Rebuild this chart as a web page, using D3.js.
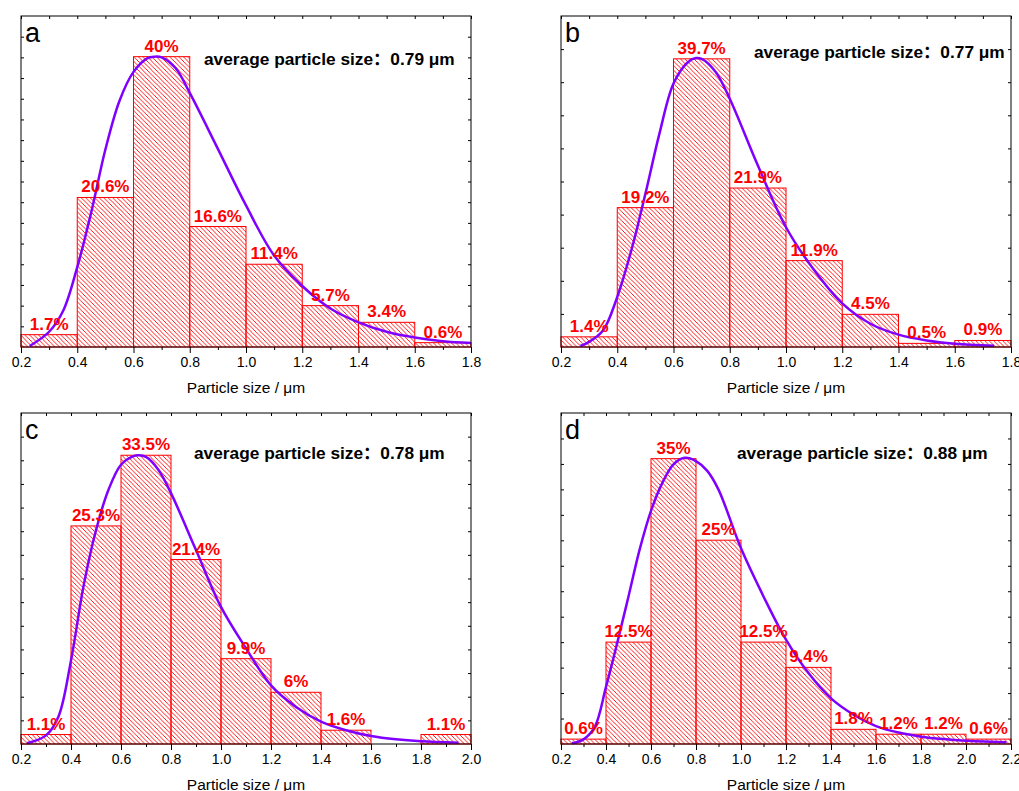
<!DOCTYPE html>
<html lang="en">
<head>
<meta charset="UTF-8">
<title>Particle size distribution</title>
<script src="https://d3js.org/d3.v7.min.js"></script>
<style>
    body { margin: 0; background: #fff; }
    svg { display: block; font-family: "Liberation Sans", Arial, "Noto Sans CJK SC", sans-serif; }
    .tick text { font-size: 14px; fill: #000; }
    .tick line { stroke: #000; }
</style>
</head>
<body>
<script>
// ---- data ----
var panelLetters = ["a", "b", "c", "d"];
var avgSizes = ["0.79", "0.77", "0.78", "0.88"];
var binLefts = [0.2, 0.4, 0.6, 0.8, 1.0, 1.2, 1.4, 1.6, 1.8, 2.0];
var binWidth = 0.2;

var percentA = [1.7, 20.6, 40, 16.6, 11.4, 5.7, 3.4, 0.6];
var percentB = [1.4, 19.2, 39.7, 21.9, 11.9, 4.5, 0.5, 0.9];
var percentC = [1.1, 25.3, 33.5, 21.4, 9.9, 6, 1.6, null, 1.1];
var percentD = [0.6, 12.5, 35, 25, 12.5, 9.4, 1.8, 1.2, 1.2, 0.6];

// fitted curves (traced)
var curveXA = [0.231, 0.3, 0.35, 0.4, 0.45, 0.5, 0.55, 0.6, 0.65, 0.675, 0.7, 0.75, 0.8, 0.9, 1.0, 1.1, 1.2, 1.3, 1.4, 1.5, 1.6, 1.7, 1.8];
var curveYA = [0.14, 2.1, 5.0, 11.0, 18.6, 27.2, 33.9, 37.9, 39.8, 40.0, 39.9, 38.4, 35.0, 27.3, 19.5, 12.6, 8.4, 5.3, 3.4, 2.1, 1.3, 0.8, 0.55];
var curveXB = [0.269, 0.3, 0.35, 0.4, 0.45, 0.5, 0.55, 0.6, 0.65, 0.68, 0.7, 0.75, 0.8, 0.9, 1.0, 1.1, 1.2, 1.3, 1.4, 1.5, 1.6, 1.74];
var curveYB = [0.14, 0.7, 2.3, 6.9, 13.3, 21.1, 29.4, 36.3, 39.2, 39.8, 39.7, 37.9, 34.2, 25.0, 16.5, 10.6, 6.0, 3.2, 1.7, 0.9, 0.46, 0.18];
var curveXC = [0.224, 0.3, 0.35, 0.4, 0.45, 0.5, 0.55, 0.6, 0.65, 0.67, 0.7, 0.75, 0.8, 0.9, 1.0, 1.1, 1.2, 1.3, 1.4, 1.5, 1.6, 1.7, 1.8, 1.95];
var curveYC = [0.08, 1.0, 3.2, 9.7, 18.3, 24.8, 29.5, 32.4, 33.4, 33.5, 33.3, 31.8, 29.1, 22.5, 15.9, 11.1, 6.8, 4.3, 2.6, 1.6, 0.93, 0.54, 0.31, 0.15];
var curveXD = [0.249, 0.3, 0.35, 0.4, 0.45, 0.5, 0.55, 0.6, 0.65, 0.7, 0.75, 0.8, 0.85, 0.9, 1.0, 1.1, 1.2, 1.3, 1.4, 1.5, 1.6, 1.7, 1.8, 1.9, 2.0, 2.18];
var curveYD = [0.08, 0.57, 2.1, 7.0, 12.4, 18.1, 23.9, 28.6, 32.0, 34.3, 35.1, 34.7, 33.5, 31.2, 24.0, 18.1, 12.8, 8.7, 5.6, 3.6, 2.2, 1.4, 0.9, 0.6, 0.4, 0.2];

var xMaxes = [1.8, 1.8, 2.0, 2.2];
var yMaxes = [45.6, 45.6, 38.4, 40.6];
var yTickCounts = [16, 10, 14, 13];

// ---- layout ----
var configuration = {
    "panel_left": [21, 561, 21, 561],
    "panel_top": [16, 16, 413, 413],
    "graph_width": 450,
    "graph_height": 331,
    "note_x": [183, 193, 173, 176],
    "note_y": [49, 42, 46, 46],
    "label_gap": 5,
    "red": "#ff0000",
    "purple": "#8000ff"
};

var percents = [percentA, percentB, percentC, percentD];
var curvesX = [curveXA, curveXB, curveXC, curveXD];
var curvesY = [curveYA, curveYB, curveYC, curveYD];

var svg = d3.select("body").append("svg")
        .attr("width", 1019)
        .attr("height", 791);

var s = 4.5;
svg.append("defs").append("pattern")
        .attr("id", "hatch")
        .attr("patternUnits", "userSpaceOnUse")
        .attr("width", s)
        .attr("height", s)
        .append("path")
        .attr("d", "M0,0L" + s + "," + s + "M-1," + (s - 1) + "L1," + (s + 1) + "M" + (s - 1) + ",-1L" + (s + 1) + ",1")
        .attr("stroke", configuration.red)
        .attr("stroke-width", 0.9);

panelLetters.forEach(function(letter, i){ drawPanel(i); });

function drawPanel(i){
    var W = configuration.graph_width, H = configuration.graph_height;
    var g = svg.append("g")
            .attr("transform", "translate(" + configuration.panel_left[i] + "," + configuration.panel_top[i] + ")");

    var x = d3.scaleLinear().domain([0.2, xMaxes[i]]).range([0, W]);
    var y = d3.scaleLinear().domain([0, yMaxes[i]]).range([H, 0]);

    var majors = d3.range(0, Math.round((xMaxes[i] - 0.2) / 0.2) + 1).map(function(k){ return +(0.2 + k * 0.2).toFixed(1); });
    var minors = d3.range(0, Math.round((xMaxes[i] - 0.2) / 0.1) + 1).map(function(k){ return +(0.2 + k * 0.1).toFixed(1); })
            .filter(function(v){ return Math.round(v * 10) % 2 === 1; });
    var n = yTickCounts[i];
    var yTicks = d3.range(1, n).map(function(k){ return yMaxes[i] * k / n; });

    var bars = percents[i].map(function(v, j){ return {x0: binLefts[j], v: v}; })
            .filter(function(d){ return d.v !== null; });

    // bars
    g.selectAll("rect.bar")
            .data(bars)
            .enter()
            .append("rect")
            .attr("class", "bar")
            .attr("x", function(d){ return x(d.x0); })
            .attr("y", function(d){ return y(d.v); })
            .attr("width", function(d){ return x(d.x0 + binWidth) - x(d.x0); })
            .attr("height", function(d){ return H - y(d.v); })
            .attr("fill", "url(#hatch)")
            .attr("stroke", configuration.red)
            .attr("stroke-width", 1);

    // fitted curve
    var pts = curvesX[i].map(function(v, j){ return [v, curvesY[i][j]]; });
    g.append("path")
            .datum(pts)
            .attr("fill", "none")
            .attr("stroke", configuration.purple)
            .attr("stroke-width", 2.5)
            .attr("d", d3.line()
                    .x(function(d){ return x(d[0]); })
                    .y(function(d){ return y(d[1]); })
                    .curve(d3.curveCatmullRom.alpha(0.5)));

    // percent labels
    g.selectAll("text.pct")
            .data(bars)
            .enter()
            .append("text")
            .attr("class", "pct")
            .attr("x", function(d){ return x(d.x0 + binWidth / 2); })
            .attr("y", function(d){ return y(d.v) - configuration.label_gap; })
            .attr("text-anchor", "middle")
            .attr("font-size", 17)
            .attr("font-weight", "bold")
            .attr("fill", configuration.red)
            .text(function(d){ return d.v + "%"; });

    // axes
    var bottom = g.append("g").attr("transform", "translate(0," + H + ")");
    bottom.append("g").call(d3.axisBottom(x).tickValues(majors).tickSize(6).tickPadding(4).tickFormat(d3.format(".1f")));
    bottom.append("g").call(d3.axisBottom(x).tickValues(minors).tickSize(3).tickFormat(""));
    g.append("g").call(d3.axisTop(x).tickValues(majors.concat(minors)).tickSize(-3).tickFormat(""));
    g.append("g").call(d3.axisLeft(y).tickValues(yTicks).tickSize(-3).tickFormat(""));
    g.append("g").attr("transform", "translate(" + W + ",0)")
            .call(d3.axisRight(y).tickValues(yTicks).tickSize(-3).tickFormat(""));
    g.selectAll(".domain").remove();

    g.append("rect")
            .attr("width", W)
            .attr("height", H)
            .attr("fill", "none")
            .attr("stroke", "#000")
            .attr("stroke-width", 1);

    g.append("text")
            .attr("x", W / 2)
            .attr("y", H + 46)
            .attr("text-anchor", "middle")
            .attr("font-size", 15.5)
            .text("Particle size / \u03bcm");

    g.append("text")
            .attr("x", 4)
            .attr("y", 26)
            .attr("font-size", 27)
            .text(panelLetters[i]);

    g.append("text")
            .attr("x", configuration.note_x[i])
            .attr("y", configuration.note_y[i])
            .attr("font-size", 17.3)
            .attr("font-weight", "bold")
            .text("average particle size\uff1a" + avgSizes[i] + " \u03bcm");
}
</script>
</body>
</html>
